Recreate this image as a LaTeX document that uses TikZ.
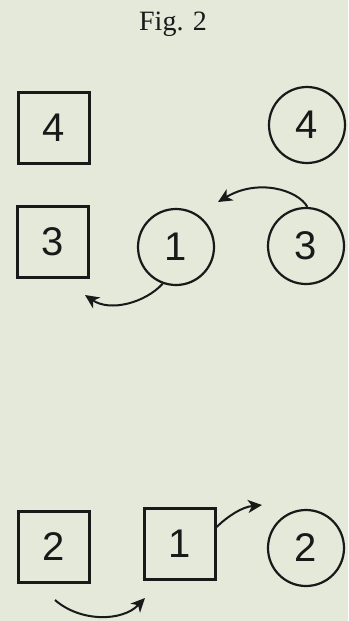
\documentclass[tikz,border=0pt]{standalone}
\usepackage{fontspec}
\setmainfont{Liberation Serif}
\newfontfamily\digitfont{Liberation Sans}
\usetikzlibrary{arrows.meta}
\definecolor{paper}{RGB}{228,233,218}
\definecolor{ink}{RGB}{25,25,25}
\begin{document}
\begin{tikzpicture}[x=1pt,y=-1pt,
  sq/.style={draw=ink,line width=2.2pt,minimum width=71pt,minimum height=71pt,inner sep=0pt,font=\digitfont\fontsize{40}{40}\selectfont,text=ink},
  cr/.style={draw=ink,line width=2.2pt,circle,minimum size=76pt,inner sep=0pt,font=\digitfont\fontsize{40}{40}\selectfont,text=ink},
  arr/.style={draw=ink,line width=2pt,-{Stealth[length=14pt,width=13pt,inset=4pt]}}]
\fill[paper] (0,0) rectangle (348,621);
\useasboundingbox (0,0) rectangle (348,621);
\node[font=\fontsize{28}{28}\selectfont,text=ink] (title) at (173,24) {Fig. 2};
\node[sq] (s4) at (54,128) {4};
\node[cr] (c4) at (307,125) {4};
\node[sq] (s3) at (53,242) {3};
\node[cr] (c1) at (176,247) {1};
\node[cr] (c3) at (306,246) {3};
\node[sq] (s2) at (54,547) {2};
\node[sq] (s1) at (180,544) {1};
\node[cr] (c2) at (306,548) {2};
\coordinate (e1) at (218,202);
\coordinate (e2) at (85,295);
\coordinate (e3) at (262,505);
\coordinate (b4) at (55,600);
\coordinate (e4) at (145,598);
\draw[arr] (c3.88) .. controls (298,190) and (258,178) .. (e1);
\draw[arr] (c1.250) .. controls (145,303) and (110,312) .. (e2);
\draw[arr] ([yshift=17pt]s1.east) .. controls (228,516) and (242,507) .. (e3);
\draw[arr] (b4) .. controls (80,622) and (122,622) .. (e4);
\end{tikzpicture}
\end{document}
